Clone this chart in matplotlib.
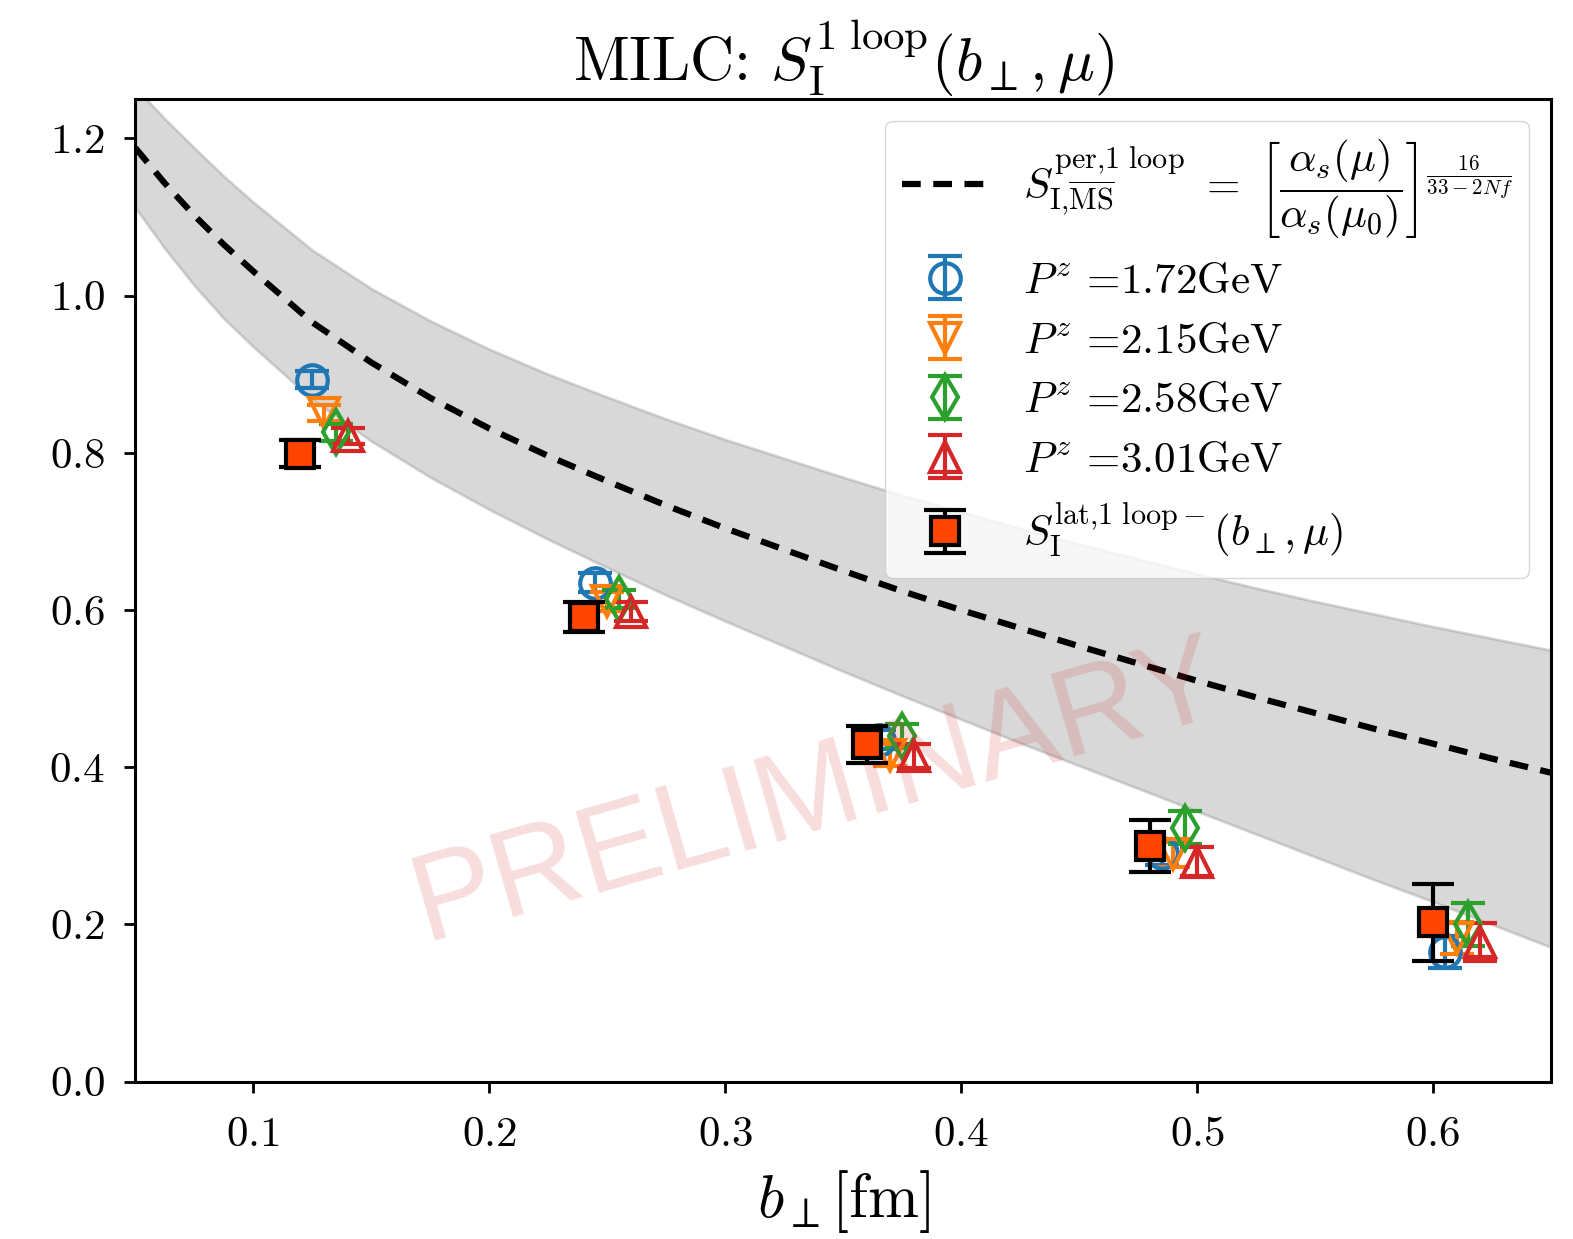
import matplotlib
matplotlib.use('Agg')
import matplotlib.pyplot as plt

plt.rcParams['font.family'] = 'serif'
plt.rcParams['font.serif'] = ['cmr10']
plt.rcParams['mathtext.fontset'] = 'cm'
plt.rcParams['axes.formatter.use_mathtext'] = True

# perturbative curve and its band
grid_x = [0.05, 0.0625, 0.075, 0.0875, 0.1, 0.125, 0.15, 0.175, 0.2, 0.225, 0.25, 0.275, 0.3, 0.325,
          0.35, 0.375, 0.4, 0.425, 0.45, 0.475, 0.5, 0.525, 0.55, 0.575, 0.6, 0.625, 0.65]
curve_y = [1.188, 1.143, 1.102, 1.065, 1.031, 0.966, 0.915, 0.870, 0.831, 0.796, 0.764, 0.733, 0.704,
           0.677, 0.650, 0.624, 0.600, 0.577, 0.554, 0.532, 0.510, 0.489, 0.469, 0.449, 0.430, 0.411, 0.393]
band_up = [1.265, 1.225, 1.188, 1.152, 1.119, 1.058, 1.009, 0.968, 0.932, 0.900, 0.871, 0.843, 0.817,
           0.793, 0.769, 0.746, 0.725, 0.704, 0.684, 0.665, 0.646, 0.628, 0.611, 0.595, 0.579, 0.564, 0.549]
band_lo = [1.112, 1.060, 1.013, 0.971, 0.935, 0.868, 0.815, 0.769, 0.728, 0.690, 0.654, 0.619, 0.586,
           0.554, 0.522, 0.491, 0.461, 0.431, 0.402, 0.373, 0.344, 0.315, 0.286, 0.257, 0.229, 0.200, 0.171]

# lattice points
b_perp = [0.12, 0.24, 0.36, 0.48, 0.60]

pz_labels = ['1.72', '2.15', '2.58', '3.01']
pz_vals = [
    [0.893, 0.635, 0.435, 0.291, 0.165],
    [0.851, 0.611, 0.416, 0.289, 0.183],
    [0.826, 0.614, 0.440, 0.323, 0.200],
    [0.821, 0.598, 0.414, 0.280, 0.178],
]
pz_errs = [
    [0.011, 0.012, 0.012, 0.016, 0.020],
    [0.010, 0.012, 0.014, 0.016, 0.020],
    [0.011, 0.012, 0.015, 0.021, 0.027],
    [0.010, 0.012, 0.015, 0.018, 0.024],
]

lat_vals = [0.799, 0.591, 0.429, 0.300, 0.203]
lat_errs = [0.017, 0.019, 0.023, 0.033, 0.049]

colors = ['C0', 'C1', 'C2', 'C3']
markers = ['o', 'v', 'd', '^']

fig = plt.figure(figsize=(15.73, 12.39), dpi=100)
ax = fig.add_axes([0.086, 0.127, 0.9, 0.793])

ax.fill_between(grid_x, band_lo, band_up, color='gray', alpha=0.3, linewidth=2)

ax.plot(grid_x, curve_y, 'k--', lw=4.5, dashes=(3, 2),
        label=r'$S_{\rm I{,}\overline{\rm MS}}^{\rm per{,}1\ loop}\ =\ '
              r'\left[\dfrac{\alpha_s(\mu)}{\alpha_s(\mu_0)}\right]^{\frac{16}{33-2Nf}}$')

for i in range(4):
    xs = [b + 0.005 * (i + 1) for b in b_perp]
    ax.errorbar(xs, pz_vals[i], yerr=pz_errs[i], fmt=markers[i], color=colors[i],
                mfc='none', ms=22, mew=3, elinewidth=3, capsize=12, capthick=3,
                label=r'$P^z$ =' + pz_labels[i] + 'GeV')

ax.errorbar(b_perp, lat_vals, yerr=lat_errs, fmt='s', color='black', mfc='#ff4500',
            mec='black', ms=20, mew=3, elinewidth=3, capsize=15, capthick=3,
            label=r'$S_{\rm I}^{\rm lat{,}1\ loop-}(b_\perp,\mu)$', zorder=5)

ax.text(0.482, 0.293, 'PRELIMINARY', transform=ax.transAxes, fontsize=89,
        family='Liberation Sans', color='C3', alpha=0.16, rotation=16,
        ha='center', va='center')

ax.set_xlim(0.05, 0.65)
ax.set_ylim(0.0, 1.25)
ax.set_xticks([0.1, 0.2, 0.3, 0.4, 0.5, 0.6])
ax.set_yticks([0.0, 0.2, 0.4, 0.6, 0.8, 1.0, 1.2])
ax.tick_params(labelsize=31, length=8, width=2, pad=14)
ax.tick_params(axis='x', pad=17)
for s in ax.spines.values():
    s.set_linewidth(2.2)

ax.set_xlabel(r'$b_\perp$[fm]', fontsize=44, labelpad=10)
ax.set_title(r'MILC: $S_{\rm I}^{\rm 1\ loop}(b_\perp,\mu)$', fontsize=44)
ax.legend(loc='upper right', fontsize=31, handlelength=2.0, borderaxespad=0.5)

fig.savefig('out.png', dpi=100)
